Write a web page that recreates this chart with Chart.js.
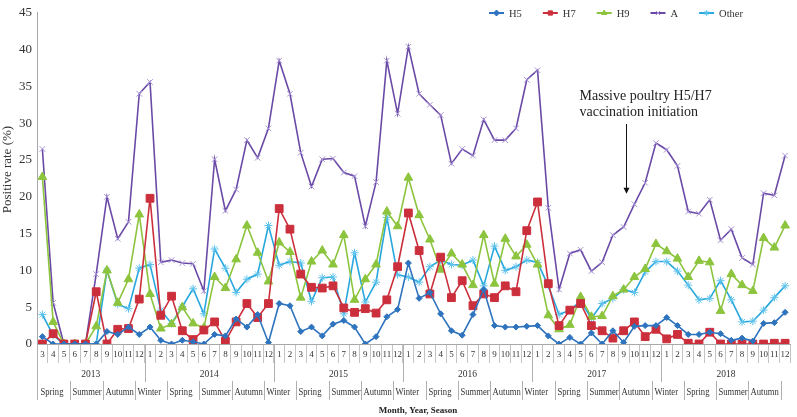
<!DOCTYPE html>
<html>
<head>
<meta charset="utf-8">
<script src="https://cdn.jsdelivr.net/npm/chart.js@4.4.1/dist/chart.umd.min.js"></script>
<style>
  html, body { margin: 0; padding: 0; background: #fff; }
  #wrap { width: 797px; height: 417px; }
</style>
</head>
<body>
<div id="wrap"><canvas id="chart" width="797" height="417"></canvas></div>
<script>
// months from 2013-03 to 2018-12
const months = ['3','4','5','6','7','8','9','10','11','12',
  '1','2','3','4','5','6','7','8','9','10','11','12',
  '1','2','3','4','5','6','7','8','9','10','11','12',
  '1','2','3','4','5','6','7','8','9','10','11','12',
  '1','2','3','4','5','6','7','8','9','10','11','12',
  '1','2','3','4','5','6','7','8','9','10','11','12'];
const years = ['2013','2014','2015','2016','2017','2018'];
const seasons = ['Spring','Summer','Autumn','Winter'];

const h5 = [1.0,0,0,0,0,0,1.7,1.3,2.3,1.3,
  2.3,0.5,0,0.5,0.3,0,1.3,1.1,3.4,2.3,4.0,0.2,
  5.5,5.2,1.7,2.3,1.1,2.7,3.2,2.3,0,1.0,3.7,4.7,
  11.0,6.2,7.0,4.1,1.8,1.2,4.0,7.4,2.5,2.3,2.3,2.4,
  2.5,1.1,0,0.9,0,1.5,0,1.8,0.2,2.4,2.5,2.5,
  3.6,2.5,1.3,1.3,1.6,1.4,0.5,0.8,0.4,2.8,2.9,4.3];
const h7 = [0,1.4,0,0,0,7.1,0,2.0,2.1,6.1,
  19.8,3.9,6.5,1.8,0.6,1.9,3.0,0.4,3.0,5.5,3.6,5.5,
  18.4,15.6,9.5,7.7,7.6,7.9,4.9,4.3,4.8,4.2,6.0,10.5,
  17.8,12.7,6.8,11.8,6.3,8.6,5.2,6.8,6.3,7.9,7.1,15.4,
  19.3,8.2,2.5,4.6,5.5,2.5,1.8,0.8,1.8,3.0,1.0,2.0,
  0.7,1.3,0.1,0,1.6,0,0,0,0,0,0.1,0.1];
const h9 = [22.7,3.0,0,0,0,2.4,10.0,5.6,8.8,17.6,
  6.8,2.1,2.7,5.0,2.8,2.2,9.1,7.6,11.5,16.1,12.4,8.5,
  13.8,12.5,6.3,11.2,12.7,10.8,14.8,6.0,8.8,10.8,18.0,16.0,
  22.6,17.5,14.2,10.1,12.3,10.8,8.0,14.8,8.2,14.3,11.9,13.5,
  10.8,3.9,2.0,2.6,6.4,3.7,3.8,6.5,7.4,9.1,10.2,13.6,
  12.6,11.6,9.1,11.3,11.1,4.5,9.5,8.0,7.2,14.4,13.1,16.1];
const fluA = [26.5,5.6,0,0,0,9.5,20.0,14.3,16.6,34.0,
  35.6,11.1,11.4,11.0,10.9,7.2,25.1,18.1,21.0,27.7,25.3,29.3,
  38.5,34.0,26.0,21.4,25.1,25.2,23.3,22.8,16.0,22.0,38.5,31.3,
  40.4,34.0,32.5,31.1,24.5,26.5,25.6,30.5,27.7,27.7,29.3,35.9,
  37.2,18.5,7.4,12.3,12.8,9.9,11.1,14.8,15.9,19.0,21.9,27.3,
  26.4,24.2,18.0,17.7,19.6,14.1,15.6,11.7,10.8,20.5,20.2,25.6];
const other = [4.0,1.2,0,0,0,0,10.0,5.4,4.8,10.3,
  10.8,4.6,2.8,5.1,7.5,4.1,12.9,10.3,7.0,8.8,9.5,16.1,
  10.7,11.2,11.0,5.8,9.0,9.1,4.1,12.4,5.7,8.4,17.2,9.4,
  9.1,8.4,10.5,11.4,10.8,10.7,11.4,7.9,13.3,10.0,10.5,11.4,
  11.1,7.9,4.0,4.6,5.8,3.5,5.5,6.2,7.4,7.0,9.8,11.2,
  11.2,9.9,8.0,6.0,6.2,8.6,6.0,3.0,3.1,4.6,6.3,7.9];

const serif = "'Liberation Serif', 'DejaVu Serif', serif";
const textColor = '#333';

function makeSet(label, data, color, style, radius, pointColor){
  return {
    label, data,
    borderColor: color,
    backgroundColor: pointColor || color,
    pointBorderColor: pointColor || color,
    pointBackgroundColor: pointColor || color,
    pointStyle: style,
    pointRadius: radius,
    pointBorderWidth: 1,
    borderWidth: 1.6,
    tension: 0
  };
}

// year / season rows, axis titles, legend and annotation
const extras = {
  id: 'extras',
  afterDraw(chart){
    const ctx = chart.ctx;
    const xs = chart.scales.x, ys = chart.scales.y;
    const area = chart.chartArea;
    const base = area.bottom;
    const edge = i => i <= 0 ? area.left : (i >= months.length ? area.right : (xs.getPixelForValue(i - 1) + xs.getPixelForValue(i)) / 2);
    ctx.save();
    ctx.strokeStyle = '#b0b0b0';
    ctx.lineWidth = 1;
    // left axis reaching through the label rows
    ctx.beginPath();
    ctx.moveTo(area.left + 0.5, base);
    ctx.lineTo(area.left + 0.5, base + 56);
    ctx.stroke();

    // y title
    ctx.save();
    ctx.fillStyle = textColor;
    ctx.font = '13px ' + serif;
    ctx.textAlign = 'center';
    ctx.textBaseline = 'middle';
    ctx.translate(8, ys.getPixelForValue(23.7));
    ctx.rotate(-Math.PI / 2);
    ctx.fillText('Positive rate (%)', 0, 0);
    ctx.restore();

    // years
    const starts = [0];
    months.forEach((m, i) => { if (m === '1') starts.push(i); });
    ctx.fillStyle = textColor;
    ctx.font = '9.5px ' + serif;
    ctx.textAlign = 'center';
    ctx.textBaseline = 'middle';
    starts.forEach((s, k) => {
      const e = k + 1 < starts.length ? starts[k + 1] : months.length;
      if (s > 0) {
        const x = Math.round(edge(s)) + 0.5;
        ctx.beginPath();
        ctx.moveTo(x, base);
        ctx.lineTo(x, base + 38);
        ctx.stroke();
      }
      ctx.fillText(years[k], (edge(s) + edge(e)) / 2, base + 30);
    });

    // seasons
    ctx.font = '10px ' + serif;
    ctx.textAlign = 'left';
    for (let i = 0, k = 0; i < months.length - 3; i += 3, k++) {
      const x = Math.round(edge(i)) + 0.5;
      if (i > 0) {
        ctx.beginPath();
        ctx.moveTo(x + 1, base + 37);
        ctx.lineTo(x + 1, base + 56);
        ctx.stroke();
      }
      ctx.save();
      ctx.translate(x + 3, base + 48);
      ctx.scale(0.86, 1);
      ctx.fillText(seasons[k % 4], 0, 0);
      ctx.restore();
    }
    const xe = Math.round(edge(months.length - 1)) + 1.5;
    ctx.beginPath();
    ctx.moveTo(xe, base + 37);
    ctx.lineTo(xe, base + 56);
    ctx.stroke();

    // x axis title
    ctx.font = 'bold 9px ' + serif;
    ctx.textAlign = 'center';
    ctx.fillStyle = '#222';
    ctx.fillText('Month, Year, Season', 418, base + 67);

    // legend
    ctx.font = '10.5px ' + serif;
    ctx.textAlign = 'left';
    let lx = 489;
    const ly = 13;
    chart.data.datasets.forEach(ds => {
      ctx.strokeStyle = ds.borderColor;
      ctx.lineWidth = 2;
      ctx.beginPath();
      ctx.moveTo(lx, ly);
      ctx.lineTo(lx + 15, ly);
      ctx.stroke();
      ctx.fillStyle = ds.pointBackgroundColor;
      ctx.strokeStyle = ds.pointBorderColor;
      ctx.lineWidth = 1;
      Chart.helpers.drawPoint(ctx, {pointStyle: ds.pointStyle, radius: 3, borderWidth: 1, rotation: 0}, lx + 7.5, ly);
      ctx.fillStyle = textColor;
      ctx.fillText(ds.label, lx + 20, ly + 1);
      lx += 20 + ctx.measureText(ds.label).width + 21;
    });

    // annotation
    ctx.fillStyle = '#222';
    ctx.font = '14px ' + serif;
    ctx.textAlign = 'left';
    const tx = xs.getPixelForValue(49.9);
    ctx.fillText('Massive poultry H5/H7', tx, ys.getPixelForValue(33.6));
    ctx.fillText('vaccination initiation', tx, ys.getPixelForValue(31.5));
    const ax = Math.round(xs.getPixelForValue(54.2)) + 0.5;
    const ay1 = ys.getPixelForValue(29.9), ay2 = ys.getPixelForValue(20.4);
    ctx.strokeStyle = '#111';
    ctx.lineWidth = 1;
    ctx.beginPath();
    ctx.moveTo(ax, ay1);
    ctx.lineTo(ax, ay2 - 5);
    ctx.stroke();
    ctx.fillStyle = '#111';
    ctx.beginPath();
    ctx.moveTo(ax - 3, ay2 - 6);
    ctx.lineTo(ax + 3, ay2 - 6);
    ctx.lineTo(ax, ay2);
    ctx.closePath();
    ctx.fill();
    ctx.restore();
  }
};

new Chart(document.getElementById('chart'), {
  type: 'line',
  data: {
    labels: months,
    datasets: [
      makeSet('H5', h5, '#2e73bd', 'rectRot', 3),
      makeSet('H7', h7, '#cc2f3c', 'rect', 5.5),
      makeSet('H9', h9, '#8cc43e', 'triangle', 5),
      makeSet('A', fluA, '#6a4aa6', 'crossRot', 4, '#a895d6'),
      makeSet('Other', other, '#27a7de', 'star', 4, '#5ec3ec')
    ]
  },
  options: {
    responsive: false,
    animation: false,
    layout: { padding: { left: 0, right: 4, top: 7, bottom: 0 } },
    plugins: { legend: { display: false }, tooltip: { enabled: false } },
    scales: {
      x: {
        offset: true,
        grid: { offset: true, drawOnChartArea: false, tickLength: 19, color: '#c4c4c4' },
        border: { color: '#a8a8a8' },
        ticks: { autoSkip: false, maxRotation: 0, padding: -14, color: textColor, font: { family: serif, size: 9 } },
        afterFit(s){ s.height = 73; }
      },
      y: {
        min: 0, max: 45,
        grid: { display: false, drawTicks: false },
        border: { display: true, color: '#a8a8a8' },
        ticks: { stepSize: 5, padding: 5, color: textColor, font: { family: serif, size: 13 } },
        afterFit(s){ s.width = 37; }
      }
    }
  },
  plugins: [extras]
});
</script>
</body>
</html>
